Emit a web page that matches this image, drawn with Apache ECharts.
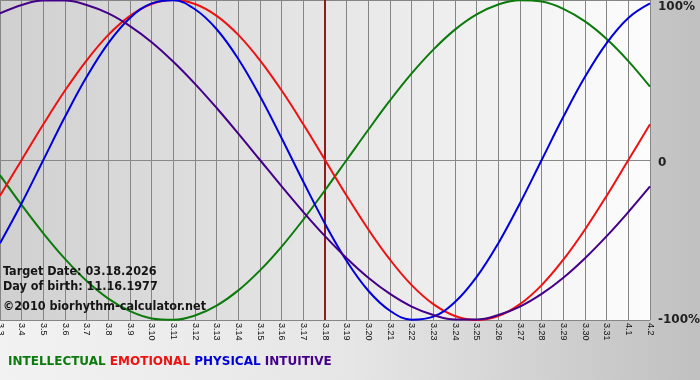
<!DOCTYPE html>
<html>
<head>
<meta charset="utf-8">
<script src="https://cdn.jsdelivr.net/npm/echarts@6/dist/echarts.min.js"></script>
<style>html,body{margin:0;padding:0;background:#fff}#c{width:700px;height:380px}</style>
</head>
<body>
<div id="c"></div>
<script>
const days = ['3.3','3.4','3.5','3.6','3.7','3.8','3.9','3.10','3.11','3.12','3.13','3.14','3.15','3.16','3.17','3.18','3.19','3.20','3.21','3.22','3.23','3.24','3.25','3.26','3.27','3.28','3.29','3.30','3.31','4.1','4.2'];
const physical = [-52.0,-27.0,0,27.0,52.0,73.1,88.8,97.9,99.8,94.2,81.7,63.1,39.8,13.6,-13.6,-39.8,-63.1,-81.7,-94.2,-99.8,-97.9,-88.8,-73.1,-52.0,-27.0,0,27.0,52.0,73.1,88.8,97.9];
const emotional = [-22.3,0,22.3,43.4,62.3,78.2,90.1,97.5,100,97.5,90.1,78.2,62.3,43.4,22.3,0,-22.3,-43.4,-62.3,-78.2,-90.1,-97.5,-100,-97.5,-90.1,-78.2,-62.3,-43.4,-22.3,0,22.3];
const intellectual = [-9.5,-28.2,-45.8,-61.8,-75.6,-86.6,-94.5,-99.0,-99.9,-97.2,-91.0,-81.5,-69.0,-54.1,-37.2,-18.9,0,18.9,37.2,54.1,69.0,81.5,91.0,97.2,99.9,99.0,94.5,86.6,75.6,61.8,45.8];
const intuitive = [91.6,96.9,99.7,99.7,96.9,91.6,83.7,73.6,61.4,47.6,32.5,16.5,0,-16.5,-32.5,-47.6,-61.4,-73.6,-83.7,-91.6,-96.9,-99.7,-99.7,-96.9,-91.6,-83.7,-73.6,-61.4,-47.6,-32.5,-16.5];
const targetDay = '3.18';
const infoLines = ['Target Date: 03.18.2026', 'Day of birth: 11.16.1977'];
const copyright = '\u00a92010 biorhythm-calculator.net';
const legendNames = ['INTELLECTUAL', 'EMOTIONAL', 'PHYSICAL', 'INTUITIVE'];
const colors = {INTELLECTUAL:'#0c7a0c', EMOTIONAL:'#ee1111', PHYSICAL:'#0000dd', INTUITIVE:'#440088'};

const chart = echarts.init(document.getElementById('c'));
const FONT = 'DejaVu Sans Condensed';
function line(name, data) {
  return {name, type:'line', data, smooth:0.4, showSymbol:false, symbol:'none',
    lineStyle:{width:2, color:colors[name]}, itemStyle:{color:colors[name]}, z:3};
}
const series = [
  line('INTELLECTUAL', intellectual),
  line('EMOTIONAL', emotional),
  line('PHYSICAL', physical),
  line('INTUITIVE', intuitive)
];
series[0].markLine = {silent:true, symbol:['none','none'], label:{show:false},
  lineStyle:{color:'#8a1c1c', width:2, type:'solid'}, data:[{xAxis:targetDay}], z:2};

const legendRich = {};
legendNames.forEach((n,i)=>{ legendRich['l'+i] = {fill:colors[n], font:'bold 12px "DejaVu Sans"'}; });

const yLabelStyle = {fontFamily:'DejaVu Sans', fontWeight:'bold', fontSize:12, color:'#222'};

chart.setOption({
  animation:false,
  backgroundColor:{type:'linear', x:0, y:0, x2:1, y2:0, colorStops:[{offset:0,color:'#f2f2f2'},{offset:0.5,color:'#e6e6e6'},{offset:1,color:'#c0c0c0'}]},
  grid:{left:0, right:50, top:0, bottom:60, show:true, borderWidth:0, containLabel:false, outerBoundsMode:'none',
    backgroundColor:{type:'linear', x:0, y:0, x2:1, y2:0, colorStops:[{offset:0,color:'#d0d0d0'},{offset:1,color:'#fcfcfc'}]}},
  xAxis:{type:'category', data:days, boundaryGap:false,
    axisLine:{show:true, lineStyle:{color:'#888', width:1}},
    axisTick:{show:true, interval:0, length:4, lineStyle:{color:'#888'}},
    splitLine:{show:true, interval:0, lineStyle:{color:'#858585', width:1}},
    axisLabel:{interval:0, rotate:-90, fontSize:9, fontFamily:'Liberation Sans', color:'#111', margin:3}},
  yAxis:{type:'value', min:-100, max:100, interval:100, position:'right',
    axisLine:{show:false}, axisTick:{show:false},
    splitLine:{show:true, lineStyle:{color:'#858585', width:1}},
    axisLabel:Object.assign({margin:8,
      formatter:v=> v===100 ? '{t|100%}' : (v===-100 ? '-100%' : '{z|0}'),
      rich:{t:Object.assign({padding:[14,0,0,0]}, yLabelStyle), z:Object.assign({padding:[5,0,0,0]}, yLabelStyle)}}, yLabelStyle)},
  series,
  graphic:[
    {type:'text', left:3, top:264, z:10, style:{text:infoLines.join('\n'), font:'bold 12.5px "'+FONT+'"', fill:'#151515', lineHeight:15}},
    {type:'text', left:3, top:300, z:10, style:{text:copyright, font:'bold 12.5px "'+FONT+'"', fill:'#151515'}},
    {type:'text', left:8, top:356, z:10, style:{text:legendNames.map((n,i)=>'{l'+i+'|'+n+'}').join(' '), rich:legendRich, font:'bold 12px "DejaVu Sans"'}}
  ]
});
</script>
</body>
</html>
